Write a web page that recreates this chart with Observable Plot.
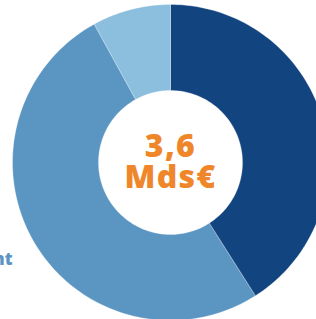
<!DOCTYPE html>
<html><head><meta charset="utf-8">
<script src="https://cdn.jsdelivr.net/npm/d3@7"></script>
<script src="https://cdn.jsdelivr.net/npm/@observablehq/plot@0.6"></script>
<style>html,body{margin:0;padding:0;background:#fff;overflow:hidden}
.center-txt text{letter-spacing:1.3px}</style>
</head><body><div id="chart"></div>
<script>
const categories = ["Investissement", "Fonctionnement", "Autres"];
const values = [41, 51, 8];
const colors = ["#12457f", "#5b96c3", "#8cbfdd"];
const centerLines = ["3,6", "Mds€"];
const sideLabel = "Fonctionnement";

const W = 316, H = 319, cx = 170, cy = 162, R = 158, r = 72;
const pie = d3.pie().sort(null).value(d => d.value);
const arcs = pie(categories.map((c, i) => ({cat: c, value: values[i], color: colors[i]})));
const pts = [];
for (const a of arcs) {
  const n = 120;
  for (let k = 0; k <= n; k++) {
    const t = a.startAngle + (a.endAngle - a.startAngle) * k / n;
    pts.push({cat: a.data.cat, color: a.data.color, x: R * Math.sin(t), y: R * Math.cos(t)});
  }
  for (let k = n; k >= 0; k--) {
    const t = a.startAngle + (a.endAngle - a.startAngle) * k / n;
    pts.push({cat: a.data.cat, color: a.data.color, x: r * Math.sin(t), y: r * Math.cos(t)});
  }
}
const chart = Plot.plot({
  width: W, height: H, margin: 0,
  x: {domain: [-cx, W - cx], range: [0, W], axis: null},
  y: {domain: [-(H - cy), cy], range: [H, 0], axis: null},
  style: {fontFamily: "Open Sans, sans-serif", background: "#fff"},
  marks: [
    Plot.line(pts, {x: "x", y: "y", z: "cat", fill: "color", stroke: "#ffffff", strokeWidth: 0.6, strokeOpacity: 0.5, curve: "linear-closed"}),
    Plot.text([centerLines.join("\n")], {x: () => 0, y: () => 0, text: d => d, dy: 0, lineHeight: 0.97, fill: "#f0862a", fontSize: 32, fontWeight: 800, className: "center-txt"}),
    Plot.text([sideLabel], {x: () => -cx + 12, y: () => 0, text: d => d, dy: 97, textAnchor: "end", fill: "#5b96c3", fontSize: 17, fontWeight: 800})
  ]
});
document.getElementById("chart").append(chart);
</script></body></html>
